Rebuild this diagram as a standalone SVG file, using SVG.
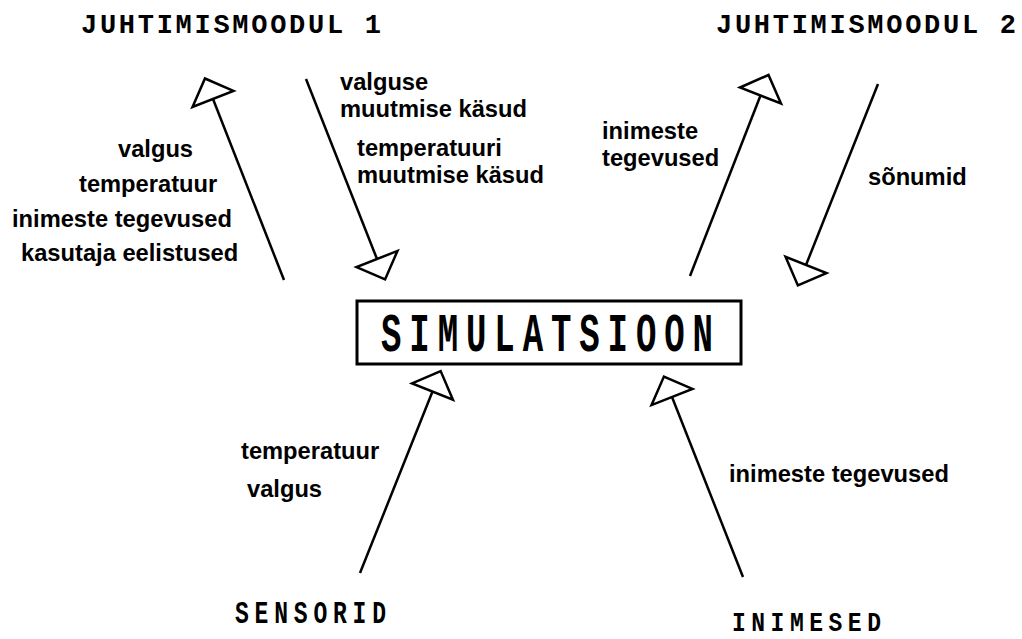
<svg xmlns="http://www.w3.org/2000/svg" width="1022" height="639" viewBox="0 0 1022 639">
<style>
.t{font-family:"Liberation Mono",monospace;font-weight:bold;fill:#000}
.l{font-family:"Liberation Sans",Arial,sans-serif;font-weight:bold;font-size:23.7px;fill:#000}
.c{stroke:#000;stroke-width:2.5;fill:none;marker-end:url(#tri)}
</style>
<defs>
<marker id="tri" markerUnits="userSpaceOnUse" markerWidth="50" markerHeight="50" refX="0" refY="0" orient="auto" overflow="visible">
<path d="M0,-22 L22,0 L0,22 Z" fill="#fff" stroke="#000" stroke-width="2.5" stroke-linejoin="miter"/>
</marker>
</defs>
<rect width="1022" height="639" fill="#fff"/>
<g id="juhtimismoodul1"><text class="t" transform="translate(81,33)" font-size="27" textLength="300" lengthAdjust="spacing">JUHTIMISMOODUL 1</text></g>
<g id="juhtimismoodul2"><text class="t" transform="translate(716,33)" font-size="27" textLength="300" lengthAdjust="spacing">JUHTIMISMOODUL 2</text></g>
<g id="simulatsioon">
<rect x="357" y="301" width="384" height="63" fill="#fff" stroke="#000" stroke-width="3"/>
<text class="t" transform="translate(381,351) scale(1,1.6)" font-size="34" textLength="332" lengthAdjust="spacing">SIMULATSIOON</text>
</g>
<g id="sensorid"><text class="t" transform="translate(235,623) scale(1,1.4)" font-size="23" textLength="151" lengthAdjust="spacing">SENSORID</text></g>
<g id="inimesed"><text class="t" transform="translate(732,631) scale(1,1.2)" font-size="23" textLength="149" lengthAdjust="spacing">INIMESED</text></g>
<g id="connectors">
<line class="c" x1="284" y1="280" x2="213" y2="99"/>
<line class="c" x1="306" y1="79" x2="377" y2="259"/>
<line class="c" x1="690" y1="276" x2="760.5" y2="95.5"/>
<line class="c" x1="878" y1="84" x2="806" y2="265"/>
<line class="c" x1="360" y1="573" x2="432.5" y2="391.5"/>
<line class="c" x1="743" y1="577" x2="672" y2="397"/>
</g>
<g id="labels">
<text class="l" x="118" y="157">valgus</text>
<text class="l" x="79" y="192">temperatuur</text>
<text class="l" x="12" y="227">inimeste tegevused</text>
<text class="l" x="21" y="261">kasutaja eelistused</text>
<text class="l" x="340" y="90">valguse</text>
<text class="l" x="340" y="117">muutmise käsud</text>
<text class="l" x="357" y="156">temperatuuri</text>
<text class="l" x="357" y="183">muutmise käsud</text>
<text class="l" x="602" y="139">inimeste</text>
<text class="l" x="602" y="166">tegevused</text>
<text class="l" x="868" y="185">sõnumid</text>
<text class="l" x="241" y="459">temperatuur</text>
<text class="l" x="247" y="497">valgus</text>
<text class="l" x="729" y="482">inimeste tegevused</text>
</g>
</svg>
